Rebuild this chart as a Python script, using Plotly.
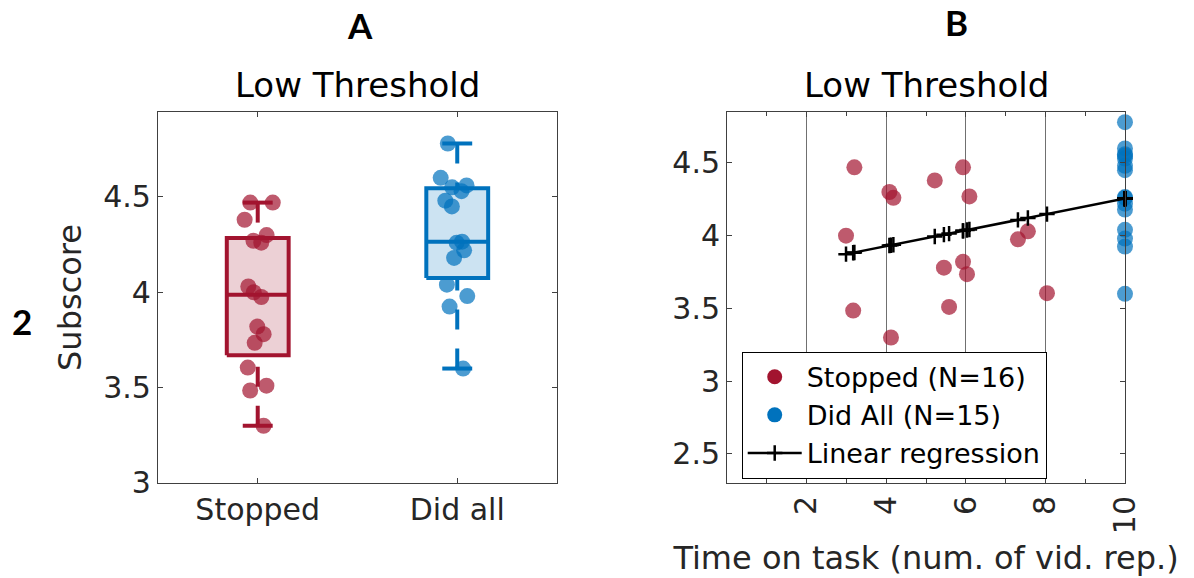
import numpy as np
import plotly.graph_objects as go

# ---- data -------------------------------------------------------------
group_labels = ["Stopped", "Did all"]

stopped_subscore = [4.47, 4.47, 4.38, 4.30, 4.26, 4.27, 4.00, 4.03,
                    3.975, 3.82, 3.78, 3.735, 3.605, 3.485, 3.51, 3.30]
stopped_time = [3.20, 5.93, 5.22, 4.08, 4.18, 6.09, 2.99, 7.56,
                7.31, 5.93, 5.45, 6.03, 8.04, 3.17, 5.58, 4.12]

didall_subscore = [4.78, 4.60, 4.56, 4.55, 4.53, 4.48, 4.45, 4.26,
                   4.265, 4.22, 4.18, 4.04, 3.98, 3.925, 3.60]
didall_time = [10, 10, 10, 10, 10, 10, 10, 10,
               10, 10, 10, 10, 10, 10, 10]

legend_names = ["Stopped (N=16)", "Did All (N=15)", "Linear regression"]

# ---- styling ----------------------------------------------------------
RED = "#A2142F"
BLUE = "#0072BD"
RED_DOT = "rgba(162,20,47,0.7)"
BLUE_DOT = "rgba(0,114,189,0.7)"
RED_FILL = "rgba(162,20,47,0.2)"
BLUE_FILL = "rgba(0,114,189,0.2)"
FONT = "DejaVu Sans"
AX = "#404040"
TXT = "#262626"

fig = go.Figure()


def box_stats(values):
    v = np.asarray(values, dtype=float)
    q1, med, q3 = np.percentile(v, [25, 50, 75], method="hazen")
    iqr = q3 - q1
    upper = v[v <= q3 + 1.5 * iqr].max()
    lower = v[v >= q1 - 1.5 * iqr].min()
    return q1, med, q3, lower, upper


def add_box(values, pos, color, fill):
    q1, med, q3, lower, upper = box_stats(values)
    hw, cw = 0.155, 0.075
    common = dict(xaxis="x", yaxis="y", mode="lines", showlegend=False,
                  hoverinfo="skip")
    # box body
    fig.add_trace(go.Scatter(
        x=[pos - hw, pos + hw, pos + hw, pos - hw, pos - hw],
        y=[q1, q1, q3, q3, q1], fill="toself", fillcolor=fill,
        line=dict(color=color, width=4), **common))
    # median
    fig.add_trace(go.Scatter(x=[pos - hw, pos + hw], y=[med, med],
                             line=dict(color=color, width=4), **common))
    # dashed whiskers, drawn from the cap toward the box
    for adj, edge in ((upper, q3), (lower, q1)):
        fig.add_trace(go.Scatter(x=[pos, pos], y=[adj, edge],
                                 line=dict(color=color, width=4,
                                           dash="20px,19px"), **common))
        fig.add_trace(go.Scatter(x=[pos - cw, pos + cw], y=[adj, adj],
                                 line=dict(color=color, width=4), **common))


def add_points(values, pos, dot):
    # jittered raw data drawn on top of the box
    fig.add_trace(go.Box(
        y=values, x0=pos, width=0.31, boxpoints="all", jitter=0.55,
        pointpos=0, fillcolor="rgba(0,0,0,0)", line=dict(width=0),
        whiskerwidth=0, marker=dict(color=dot, size=16),
        showlegend=False, hoverinfo="y", xaxis="x", yaxis="y"))


add_box(stopped_subscore, 1, RED, RED_FILL)
add_box(didall_subscore, 2, BLUE, BLUE_FILL)
add_points(stopped_subscore, 1, RED_DOT)
add_points(didall_subscore, 2, BLUE_DOT)

# ---- panel B: subscore vs time on task -------------------------------
fig.add_trace(go.Scatter(x=stopped_time, y=stopped_subscore, mode="markers",
                         marker=dict(color=RED_DOT, size=16),
                         cliponaxis=False,
                         showlegend=False, xaxis="x2", yaxis="y2"))
fig.add_trace(go.Scatter(x=didall_time, y=didall_subscore, mode="markers",
                         marker=dict(color=BLUE_DOT, size=16),
                         cliponaxis=False,
                         showlegend=False, xaxis="x2", yaxis="y2"))

all_time = np.array(stopped_time + didall_time, dtype=float)
all_score = np.array(stopped_subscore + didall_subscore, dtype=float)
slope, intercept = np.polyfit(all_time, all_score, 1)
fit_x = np.sort(all_time)
fit_y = np.polyval([slope, intercept], fit_x)

# legend-only entries with opaque swatches
fig.add_trace(go.Scatter(x=[None], y=[None], mode="markers",
                         marker=dict(color=RED, size=15),
                         name=legend_names[0], xaxis="x2", yaxis="y2"))
fig.add_trace(go.Scatter(x=[None], y=[None], mode="markers",
                         marker=dict(color=BLUE, size=15),
                         name=legend_names[1], xaxis="x2", yaxis="y2"))
fig.add_trace(go.Scatter(x=fit_x, y=fit_y, mode="lines+markers",
                         line=dict(color="black", width=2.5),
                         marker=dict(symbol="cross-thin", size=11,
                                     line=dict(color="black", width=2.5)),
                         cliponaxis=False,
                         name=legend_names[2], xaxis="x2", yaxis="y2"))

# ---- axes -------------------------------------------------------------
axis_common = dict(showline=True, linecolor=AX, linewidth=1, mirror="ticks",
                   ticks="inside", ticklen=5, tickcolor=AX, zeroline=False,
                   automargin=False,
                   tickfont=dict(family=FONT, size=30, color=TXT))

fig.update_layout(
    template="none",
    width=1194, height=578,
    margin=dict(l=0, r=0, t=0, b=0),
    paper_bgcolor="white", plot_bgcolor="white",
    boxmode="overlay",
    font=dict(family=FONT, color=TXT),
    xaxis=dict(domain=[0.1323, 0.4665], range=[0.5, 2.5],
               tickvals=[1, 2], ticktext=group_labels, showgrid=False,
               anchor="y", **axis_common),
    yaxis=dict(domain=[0.1644, 0.8062], range=[3, 4.945],
               tickvals=[3, 3.5, 4, 4.5], showgrid=False, anchor="x",
               title=dict(text="Subscore",
                          font=dict(family=FONT, size=32, color=TXT),
                          standoff=12),
               **axis_common),
    xaxis2=dict(domain=[0.6089, 0.9422], range=[0, 10],
                tickvals=[2, 4, 6, 8, 10], tickangle=-90,
                showgrid=True, gridcolor="#707070", gridwidth=1,
                minor=dict(tickvals=[1, 3, 5, 7, 9], ticks="inside",
                           ticklen=4, tickcolor=AX, showgrid=False),
                anchor="y2",
                title=dict(text="Time on task (num. of vid. rep.)",
                           font=dict(family=FONT, size=32, color=TXT),
                           standoff=13),
                **axis_common),
    yaxis2=dict(domain=[0.1644, 0.8062], range=[2.3, 4.85],
                tickvals=[2.5, 3, 3.5, 4, 4.5], showgrid=False, anchor="x2",
                **axis_common),
    legend=dict(x=0.6212, y=0.3915, xanchor="left", yanchor="top",
                bgcolor="white", bordercolor="black", borderwidth=1,
                font=dict(family=FONT, size=27, color="black"),
                traceorder="normal", itemwidth=54),
)

# ---- panel titles and letters ----------------------------------------
annotations = [
    dict(text="Low Threshold", x=(0.1323 + 0.4665) / 2, y=0.853,
         yanchor="middle", font=dict(family=FONT, size=34, color="black")),
    dict(text="Low Threshold", x=(0.6089 + 0.9422) / 2, y=0.853,
         yanchor="middle", font=dict(family=FONT, size=34, color="black")),
    dict(text="<b>A</b>", x=359.7 / 1194, y=1 - 3 / 578, yanchor="top",
         borderpad=0, font=dict(family="Lato", size=35, color="black")),
    dict(text="<b>B</b>", x=956.7 / 1194, y=1.0, yanchor="top",
         borderpad=0, font=dict(family="Lato", size=35, color="black")),
    dict(text="<b>2</b>", x=22 / 1194, y=0.445, yanchor="middle",
         font=dict(family="Lato", size=35, color="black")),
]
for a in annotations:
    fig.add_annotation(xref="paper", yref="paper", showarrow=False,
                       xanchor="center", **a)

fig.write_html("out.html")
